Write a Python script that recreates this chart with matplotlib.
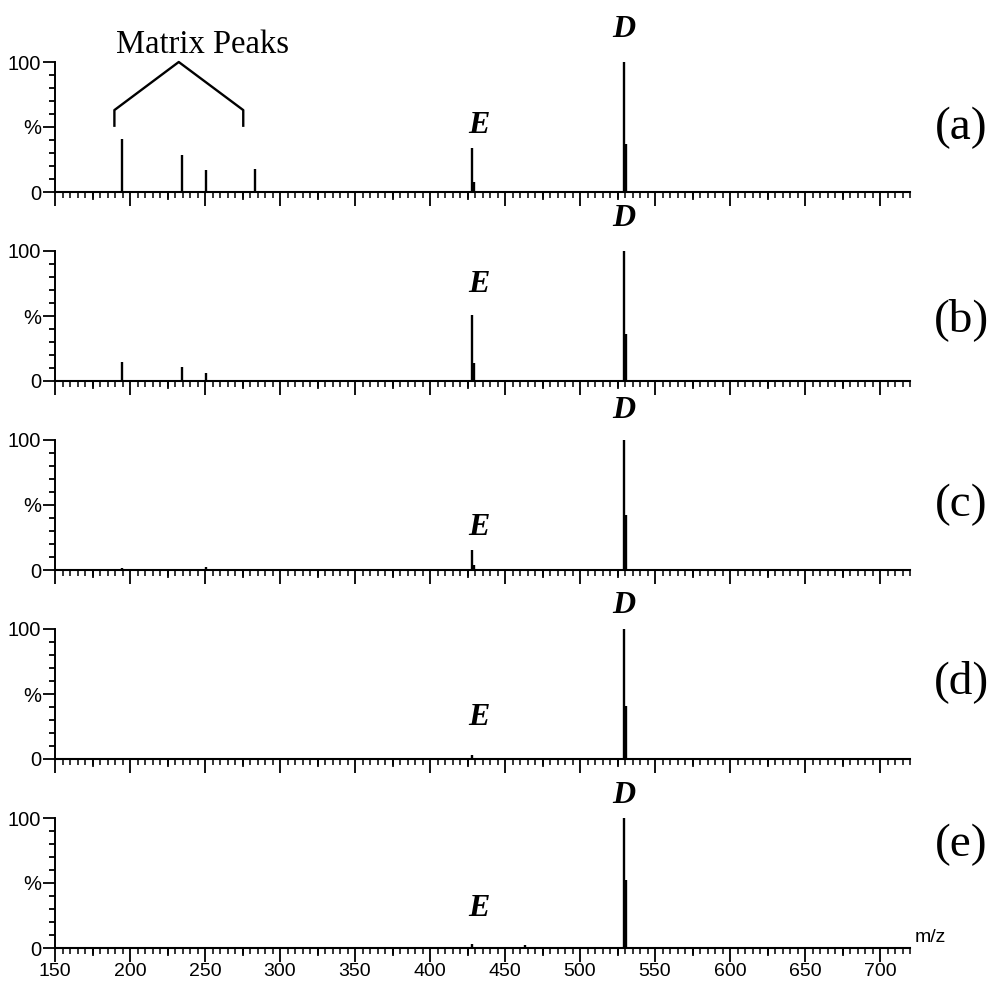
import numpy as np
import matplotlib.pyplot as plt
from matplotlib.ticker import MultipleLocator, FixedLocator

# stick peaks (m/z, relative intensity %)
panel_names = ['(a)', '(b)', '(c)', '(d)', '(e)']

mz_a = [194.9, 234.7, 250.4, 283.3, 428.2, 429.2, 529.4, 530.8]
int_a = [40.5, 28.5, 17.0, 17.7, 33.6, 8.0, 100.0, 37.0]

mz_b = [194.9, 234.7, 250.4, 428.2, 429.2, 529.4, 530.8]
int_b = [14.6, 10.8, 6.0, 51.0, 14.0, 100.0, 36.0]

mz_c = [194.9, 250.4, 428.2, 429.2, 529.4, 530.8]
int_c = [1.5, 2.0, 15.4, 4.0, 100.0, 42.0]

mz_d = [428.2, 529.4, 530.8]
int_d = [3.0, 100.0, 41.0]

mz_e = [428.2, 463.0, 529.4, 530.8]
int_e = [3.0, 2.0, 100.0, 52.0]

spectra = [(mz_a, int_a), (mz_b, int_b), (mz_c, int_c), (mz_d, int_d), (mz_e, int_e)]

# label positions (data coords of each panel)
d_label_y = [125, 125, 123, 118, 117]
e_label_y = [51, 74, 33, 32, 30]
# panel letter centres in figure pixels (from top)
letter_y_px = [128, 320, 505, 682, 845]

W, H = 997, 981
fig = plt.figure(figsize=(W / 100, H / 100), dpi=100)

sans = 'Liberation Sans'
serif = 'Liberation Serif'

for i, (mz, inten) in enumerate(spectra):
    bottom_px = 192 + 189 * i
    ax = fig.add_axes([55 / W, 1 - bottom_px / H, 855 / W, 130 / H])
    ax.vlines(mz, 0, inten, color='black', lw=1.7)
    ax.set_xlim(150, 720)
    ax.set_ylim(0, 100)

    for s in ['top', 'right']:
        ax.spines[s].set_visible(False)
    ax.spines['left'].set_linewidth(1.4)
    ax.spines['bottom'].set_linewidth(1.5)

    ax.yaxis.set_major_locator(FixedLocator([0, 50, 100]))
    ax.set_yticklabels(['0', '%', '100'], fontsize=14.5, family=sans)
    ax.yaxis.set_minor_locator(MultipleLocator(10))
    ax.tick_params(axis='y', which='major', length=9, width=1.3, pad=1)
    ax.tick_params(axis='y', which='minor', length=4, width=1.3)

    ax.xaxis.set_major_locator(MultipleLocator(50))
    ax.xaxis.set_minor_locator(MultipleLocator(5))
    ax.tick_params(axis='x', which='major', length=10, width=1.3, pad=0.5)
    ax.tick_params(axis='x', which='minor', length=4, width=1.1)
    # medium ticks at the 25s
    for xm in np.arange(175, 720, 50):
        ax.plot([xm, xm], [0, -5.5], color='black', lw=1.3, clip_on=False)
    if i < 4:
        ax.set_xticklabels([])
    else:
        for lab in ax.get_xticklabels():
            lab.set_fontsize(14)
            lab.set_family(sans)

    ax.text(529.4, d_label_y[i], 'D', ha='center', va='center', fontsize=23,
            family=serif, weight='bold', style='italic', clip_on=False)
    ax.text(432.5, e_label_y[i], 'E', ha='center', va='center', fontsize=23,
            family=serif, weight='bold', style='italic', clip_on=False)

    fig.text(961 / W, 1 - letter_y_px[i] / H, panel_names[i], ha='center',
             va='center', fontsize=34, family=serif)

    if i == 0:
        ax.plot([189.6, 189.6, 232.5, 275.5, 275.5], [51, 63, 100, 63, 51],
                color='black', lw=1.7, clip_on=False)
        ax.text(248, 113, 'Matrix Peaks', ha='center', va='center',
                fontsize=23.5, family=serif, clip_on=False)

fig.text(915 / W, 1 - 938 / H, 'm/z', ha='left', va='center', fontsize=14,
         family=sans)

fig.savefig('out.png', dpi=100)
